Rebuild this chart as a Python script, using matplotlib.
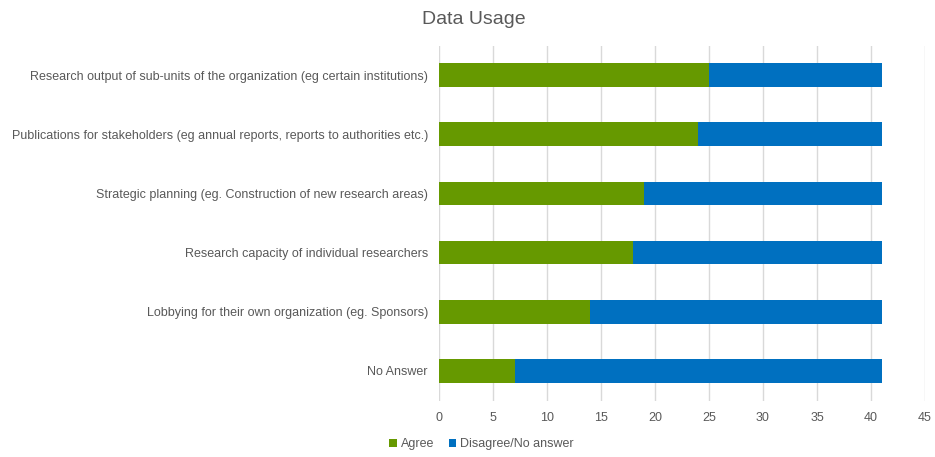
import matplotlib.pyplot as plt
import numpy as np

plt.rcParams['font.family'] = ['Liberation Sans', 'DejaVu Sans']

categories = [
    "Research output of sub-units of the organization (eg certain institutions)",
    "Publications for stakeholders (eg annual reports, reports to authorities etc.)",
    "Strategic planning (eg. Construction of new research areas)",
    "Research capacity of individual researchers",
    "Lobbying for their own organization (eg. Sponsors)",
    "No Answer",
]
agree = [25, 24, 19, 18, 14, 7]
disagree = [16, 17, 22, 23, 27, 34]

green = "#669900"
blue = "#0070c0"
text_color = "#595959"

fig = plt.figure(figsize=(9.35, 4.57), dpi=100)
ax = fig.add_axes([439 / 935, 1 - 400.5 / 457, 486 / 935, 355 / 457])

y = np.arange(len(categories))
ax.barh(y, agree, height=0.4, color=green, label="Agree", zorder=3)
ax.barh(y, disagree, left=agree, height=0.4, color=blue, label="Disagree/No answer", zorder=3)

ax.set_yticks(y)
ax.set_yticklabels(categories, fontsize=9, color=text_color)
ax.set_ylim(len(categories) - 0.5, -0.5)
ax.set_xlim(0, 45)
ax.set_xticks(np.arange(0, 46, 5))
ax.tick_params(axis='x', labelsize=9, colors=text_color, length=0, pad=8)
ax.tick_params(axis='y', length=0, pad=8)
ax.grid(axis='x', color="#d9d9d9", linewidth=1, zorder=0)
for s in ax.spines.values():
    s.set_visible(False)

fig.suptitle("Data Usage", x=0.507, y=0.975, fontsize=14, color=text_color)
fig.legend(loc="lower center", bbox_to_anchor=(0.515, -0.01), ncol=2, frameon=False,
           fontsize=9, handlelength=0.6, handleheight=0.6, handletextpad=0.3,
           columnspacing=1.2, labelcolor=text_color)

fig.savefig("out.png", dpi=100)
